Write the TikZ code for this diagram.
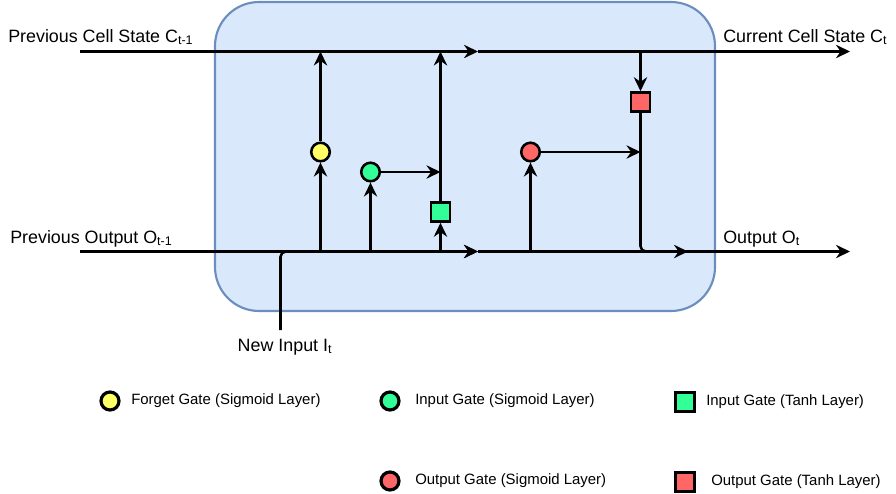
\documentclass[tikz,border=0pt]{standalone}
\usepackage{fontspec}
\setmainfont{Liberation Sans}
\usetikzlibrary{arrows.meta}
\definecolor{cellfill}{HTML}{DAE8FC}
\definecolor{celldraw}{HTML}{6C8EBF}
\definecolor{gyel}{HTML}{FFFF66}
\definecolor{ggrn}{HTML}{33FF99}
\definecolor{gred}{HTML}{FF6666}

\begin{document}
\begin{tikzpicture}[
  x=0.75pt, y=-0.75pt,
  font=\fontsize{13.4}{15}\selectfont,
  cell/.style={rectangle, rounded corners=33pt, draw=celldraw, fill=cellfill, line width=1.6pt,
               minimum width=375pt, minimum height=231.75pt},
  sig/.style={circle, draw=black, line width=1.9pt, minimum size=13.9pt, inner sep=0pt},
  tnh/.style={rectangle, draw=black, line width=1.9pt, minimum size=14.3pt, inner sep=0pt},
  ar/.style={-{Stealth[length=10.5pt, width=10pt, inset=3.5pt]}, line width=1.9pt},
  ln/.style={line width=1.9pt},
  lbl/.style={anchor=base west, inner sep=0pt},
  key/.style={anchor=west, inner sep=0pt, font=\fontsize{11.2}{13}\selectfont},
  ksig/.style={sig, line width=2.4pt, minimum size=13.5pt},
  ktnh/.style={tnh, line width=2.4pt, minimum size=14pt}
]
\useasboundingbox (0,0) rectangle (896,493);

\node[cell] (cell) at (465,156.5) {};

% rails
\coordinate (cl) at (80,51.5);
\coordinate (cm) at (478,51.5);
\coordinate (cr) at (850,51.5);
\coordinate (ol) at (80,251.5);
\coordinate (om) at (478,251.5);
\coordinate (on) at (688,251.5);
\coordinate (or) at (850,251.5);
\coordinate (ni) at (280.5,330);

% gates
\node[sig, fill=gyel] (fg) at (320.5,152) {};
\node[sig, fill=ggrn] (ig) at (370.5,172) {};
\node[tnh, fill=ggrn] (it) at (440.5,212) {};
\node[sig, fill=gred] (og) at (530.5,152) {};
\node[tnh, fill=gred] (ot) at (640.5,102) {};

\draw[ar] (cl) -- (cm);
\draw[ar] (cm) -- (cr);
\draw[ar] (ol) -- (om);
\draw[ln] (om) -- (on);
\draw[ar] (on) -- (or);
\draw[ar, rounded corners=4pt] (ni) |- (om);

\draw[ar] (fg |- ol) -- (fg);
\draw[ar] (fg) -- (fg |- cl);
\draw[ar] (ig |- ol) -- (ig);
\draw[ar] (ig) -- (ig -| it);
\draw[ar] (it |- ol) -- (it);
\draw[ar] (it) -- (it |- cl);
\draw[ar] (og |- ol) -- (og);
\draw[ar] (og) -- (og -| ot);
\draw[ar] (ot |- cl) -- (ot);
\draw[ar, rounded corners=4pt] (ot) |- (on);

% labels
\node[lbl] (pc) at (8,42) {Previous Cell State C\textsubscript{t-1}};
\node[lbl] (cc) at (723,42) {Current Cell State C\textsubscript{t}};
\node[lbl] (po) at (10,243) {Previous Output O\textsubscript{t-1}};
\node[lbl] (co) at (723,243) {Output O\textsubscript{t}};
\node[inner sep=0pt, anchor=base] (nl) at (285,351) {New Input I\textsubscript{t}};

% legend
\node[ksig, fill=gyel] (kfg) at (110,401) {};
\node[key] (tfg) at (131,401) {Forget Gate (Sigmoid Layer)};
\node[ksig, fill=ggrn] (kig) at (390,401) {};
\node[key] (tig) at (415,401) {Input Gate (Sigmoid Layer)};
\node[ktnh, fill=ggrn] (kit) at (685,402) {};
\node[key] (tit) at (706,402) {Input Gate (Tanh Layer)};
\node[ksig, fill=gred] (kog) at (390,481) {};
\node[key] (tog) at (415,481) {Output Gate (Sigmoid Layer)};
\node[ktnh, fill=gred] (kot) at (685,482) {};
\node[key] (tot) at (711,482) {Output Gate (Tanh Layer)};
\end{tikzpicture}
\end{document}
